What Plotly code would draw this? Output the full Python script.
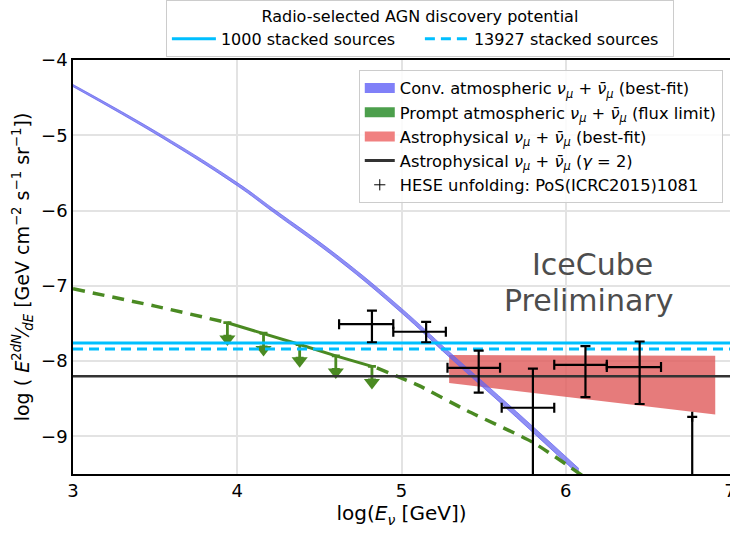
import plotly.graph_objects as go

# ---------------- data (log10 units) ----------------
conv_logE = [3.0, 3.53, 4.0, 4.22, 4.62, 5.0, 5.29, 5.7, 6.08]
conv_flux = [-4.34, -5.00, -5.65, -6.00, -6.64, -7.33, -7.91, -8.71, -9.47]
conv_halfwidth = [0.014, 0.018, 0.021, 0.023, 0.026, 0.03, 0.034, 0.038, 0.042]

prompt_logE = [3.0, 3.5, 3.94, None, 4.85, 5.1, 5.4, 5.8, 6.1]
prompt_flux = [-7.04, -7.27, -7.49, None, -8.09, -8.32, -8.66, -9.08, -9.52]

limit_logE = [3.94, 4.16, 4.38, 4.60, 4.82]
limit_flux = [-7.49, -7.63, -7.78, -7.93, -8.07]
arrow_len = 0.30

astro_logE = [5.29, 6.91]
astro_top = [-7.92, -7.93]
astro_bottom = [-8.29, -8.71]

astro_gamma2 = -8.20
agn_1000 = -7.76
agn_13927 = -7.84

hese_logE = [4.82, 5.15, 5.47, 5.80, 6.12, 6.45, 6.77]
hese_xlo = [4.62, 4.95, 5.28, 5.61, 5.93, 6.25, 6.77]
hese_xhi = [4.95, 5.27, 5.60, 5.93, 6.25, 6.58, 6.77]
hese_flux = [-7.51, -7.61, -8.09, -8.62, -8.05, -8.08, -8.74]
hese_top = [-7.33, -7.48, -7.86, -8.10, -7.80, -7.74, -8.74]
hese_bottom = [-7.75, -7.75, -8.42, -11.0, -8.48, -8.57, -11.0]

xlim = [3, 7]
ylim = [-9.5, -4]
xticks = [3, 4, 5, 6, 7]
yticks = [-4, -5, -6, -7, -8, -9]

# ---------------- colours ----------------
blue = "rgba(100,100,240,0.72)"
green_line = "#4a8a22"
green_patch = "#4c9f4c"
red = "rgba(224,90,90,0.8)"
cyan = "#00bfff"
dark = "#333333"

nu = "<i>ν</i><sub><i>μ</i></sub> + <i>ν̄</i><sub><i>μ</i></sub>"

fig = go.Figure()

# Astrophysical best-fit band
fig.add_trace(go.Scatter(
    x=astro_logE + astro_logE[::-1], y=astro_top + astro_bottom[::-1],
    fill="toself", fillcolor=red, line=dict(width=0), mode="lines",
    hoverinfo="skip", showlegend=False))

# Conventional atmospheric band (fill between two smooth curves)
conv_lo = [f - h for f, h in zip(conv_flux, conv_halfwidth)]
conv_hi = [f + h for f, h in zip(conv_flux, conv_halfwidth)]
fig.add_trace(go.Scatter(
    x=conv_logE, y=conv_lo, mode="lines",
    line=dict(width=1.0, color=blue, shape="spline", smoothing=1.2),
    hoverinfo="skip", showlegend=False))
fig.add_trace(go.Scatter(
    x=conv_logE, y=conv_hi, mode="lines", fill="tonexty", fillcolor=blue,
    line=dict(width=1.0, color=blue, shape="spline", smoothing=1.2),
    hoverinfo="skip", showlegend=False))

# Prompt dashed
fig.add_trace(go.Scatter(
    x=prompt_logE, y=prompt_flux, mode="lines",
    line=dict(color=green_line, width=3.5, dash="12px,8px", shape="spline", smoothing=0.6),
    connectgaps=False, showlegend=False, hoverinfo="skip"))

# Prompt limit line with arrows
fig.add_trace(go.Scatter(
    x=limit_logE, y=limit_flux, mode="lines",
    line=dict(color=green_line, width=3),
    error_y=dict(type="data", symmetric=False,
                 array=[0] * len(limit_flux),
                 arrayminus=[arrow_len - 0.12] * len(limit_flux),
                 color=green_line, thickness=2.8, width=4),
    showlegend=False, hoverinfo="skip"))
fig.add_trace(go.Scatter(
    x=limit_logE, y=[f - arrow_len + 0.085 for f in limit_flux], mode="markers",
    marker=dict(symbol="triangle-down", size=14, color=green_line,
                line=dict(width=0)),
    showlegend=False, hoverinfo="skip"))

# gamma=2 line
fig.add_trace(go.Scatter(
    x=xlim, y=[astro_gamma2] * 2, mode="lines",
    line=dict(color=dark, width=2.5), showlegend=False, hoverinfo="skip"))

# AGN discovery potential lines
fig.add_trace(go.Scatter(
    x=xlim, y=[agn_1000] * 2, mode="lines",
    line=dict(color=cyan, width=3), name="1000 stacked sources",
    legend="legend"))
fig.add_trace(go.Scatter(
    x=xlim, y=[agn_13927] * 2, mode="lines",
    line=dict(color=cyan, width=3, dash="10px,6px"),
    name="13927 stacked sources", legend="legend"))

# HESE unfolding points
fig.add_trace(go.Scatter(
    x=hese_logE, y=hese_flux, mode="markers",
    marker=dict(size=1, color="rgba(0,0,0,0)"),
    error_x=dict(type="data", symmetric=False,
                 array=[h - c for h, c in zip(hese_xhi, hese_logE)],
                 arrayminus=[c - l for c, l in zip(hese_logE, hese_xlo)],
                 color="black", thickness=2.2, width=5),
    error_y=dict(type="data", symmetric=False,
                 array=[t - c for t, c in zip(hese_top, hese_flux)],
                 arrayminus=[c - b for c, b in zip(hese_flux, hese_bottom)],
                 color="black", thickness=2.2, width=5),
    showlegend=False, hoverinfo="skip"))

# ---- legend-only entries (legend2) ----
def legend_patch(name, color):
    fig.add_trace(go.Scatter(
        x=[None], y=[None], mode="lines", line=dict(width=12, color=color),
        name=name, legend="legend2"))

legend_patch(f"Conv. atmospheric {nu} (best-fit)", "#8080f8")
legend_patch(f"Prompt atmospheric {nu} (flux limit)", green_patch)
legend_patch(f"Astrophysical {nu} (best-fit)", "#f08080")
fig.add_trace(go.Scatter(
    x=[None], y=[None], mode="lines", line=dict(color=dark, width=3),
    name=f"Astrophysical {nu} (<i>γ</i> = 2)", legend="legend2"))
fig.add_trace(go.Scatter(
    x=[None], y=[None], mode="markers",
    marker=dict(symbol="cross-thin", size=8, line=dict(width=1, color="black")),
    name="HESE unfolding: PoS(ICRC2015)1081", legend="legend2"))

# IceCube Preliminary
fig.add_annotation(x=6.16, y=-6.72, xref="x", yref="y", text="IceCube",
                   showarrow=False, font=dict(size=30, color="#4d4d4d"))
fig.add_annotation(x=6.14, y=-7.19, xref="x", yref="y", text="Preliminary",
                   showarrow=False, font=dict(size=30, color="#4d4d4d"))

font_family = "DejaVu Sans"
fig.update_layout(
    width=730, height=534,
    margin=dict(l=73, r=0, t=60, b=60, autoexpand=False),
    paper_bgcolor="white", plot_bgcolor="white",
    font=dict(family=font_family, size=16, color="black"),
    showlegend=True,
    legend=dict(
        orientation="h", x=0.528, xanchor="center", y=1.145, yanchor="top",
        traceorder="normal",
        title=dict(text="Radio-selected AGN discovery potential", side="top center",
                   font=dict(size=16)),
        font=dict(size=16), bgcolor="rgba(255,255,255,0.9)",
        bordercolor="#cccccc", borderwidth=1, itemwidth=44, entrywidth=194),
    legend2=dict(
        x=0.989, xanchor="right", y=0.976, yanchor="top",
        traceorder="normal",
        font=dict(size=16.3), bgcolor="rgba(255,255,255,0.85)",
        bordercolor="#cccccc", borderwidth=1, itemwidth=30, tracegroupgap=0),
    xaxis=dict(
        range=xlim, tickvals=xticks, showgrid=True, gridcolor="#e3e3e3", gridwidth=1.5,
        zeroline=False, showline=True, linecolor="black", linewidth=1.5, mirror=True,
        ticks="", tickfont=dict(size=18), ticklabeloverflow="allow",
        title=dict(text="log(<i>E</i><sub><i>ν</i></sub> [GeV])", font=dict(size=20), standoff=6)),
    yaxis=dict(
        range=ylim, tickvals=yticks, showgrid=True, gridcolor="#e3e3e3", gridwidth=1.5,
        zeroline=False, showline=True, linecolor="black", linewidth=1.5, mirror=True,
        ticks="", tickfont=dict(size=18),
        title=dict(text="log ( <i>E</i><sup>2</sup><sup><i>dN</i></sup>⁄<sub><i>dE</i></sub> [GeV cm<sup>−2</sup> s<sup>−1</sup> sr<sup>−1</sup>])",
                   font=dict(size=19), standoff=6)),
)

fig.write_html("out.html")
